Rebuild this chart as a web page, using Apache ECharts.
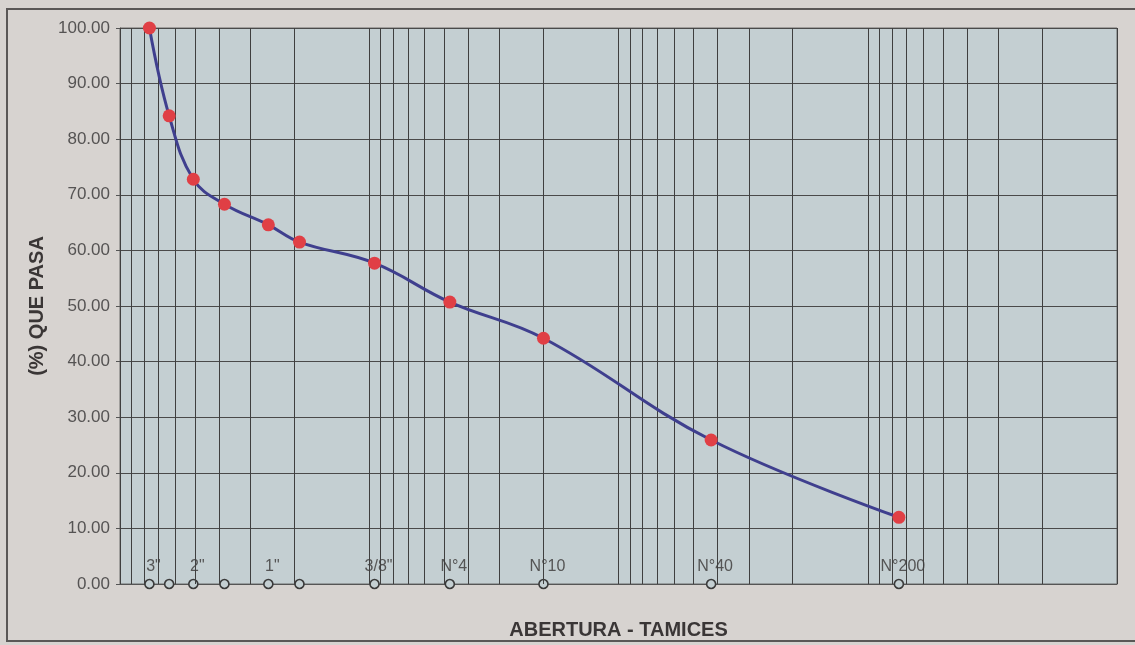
<!DOCTYPE html>
<html>
<head>
<meta charset="utf-8">
<script src="https://cdn.jsdelivr.net/npm/echarts@6/dist/echarts.min.js"></script>
<style>
html,body{margin:0;padding:0;background:#d7d3d0;}
#c{width:1135px;height:645px;}
</style>
</head>
<body>
<div id="c"></div>
<script>
// Sieve openings (mm) and names
const sieveSizes = [76.2, 63.5, 50.8, 38.1, 25.4, 19.05, 9.525, 4.75, 2.0, 0.425, 0.075];
const sieveLabels = ['3"', '', '2"', '', '1"', '', '3/8"', 'N°4', 'N°10', 'N°40', 'N°200'];
// % passing
const percentPassing = [100.0, 84.2, 72.8, 68.3, 64.6, 61.5, 57.7, 50.7, 44.2, 25.9, 12.0];
// y tick values
const yTicks = [0, 10, 20, 30, 40, 50, 60, 70, 80, 90, 100];

// log grid lines: 1..9 x each decade from 0.01 to 100
const decades = [0.01, 0.1, 1, 10];
const gridValues = [];
decades.forEach(d => { for (let m = 1; m <= 9; m++) gridValues.push(+(d * m).toPrecision(6)); });
gridValues.push(100);

const chart = echarts.init(document.getElementById('c'));
const FONT = '"Liberation Sans", Arial, sans-serif';
chart.setOption({
  animation: false,
  backgroundColor: '#d7d3d0',
  graphic: [{
    type: 'rect', z: -1,
    shape: {x: 7, y: 9, width: 1150, height: 632},
    style: {fill: 'none', stroke: '#5a5756', lineWidth: 2}
  }],
  grid: {
    left: 120, right: 18, top: 28, bottom: 61,
    show: true, backgroundColor: '#c4cfd2', borderColor: '#6a6a6a', borderWidth: 1
  },
  xAxis: {
    type: 'log', logBase: 10, min: 0.01, max: 100, inverse: true,
    name: 'ABERTURA - TAMICES', nameLocation: 'middle', nameGap: 36,
    nameTextStyle: {fontFamily: FONT, fontWeight: 'bold', fontSize: 20, color: '#3a3636'},
    axisLine: {show: true, lineStyle: {color: '#555', width: 1}},
    axisTick: {show: false},
    axisLabel: {show: false},
    splitLine: {show: false}
  },
  yAxis: {
    type: 'value', min: 0, max: 100, interval: 10,
    name: '(%) QUE PASA', nameLocation: 'middle', nameGap: 72, nameRotate: 90,
    nameTextStyle: {fontFamily: FONT, fontWeight: 'bold', fontSize: 20, color: '#3a3636'},
    axisLine: {show: true, lineStyle: {color: '#555'}},
    axisTick: {show: true, length: 4, lineStyle: {color: '#555'}},
    axisLabel: {
      fontFamily: FONT, fontSize: 17, color: '#555353', margin: 10,
      formatter: v => v.toFixed(2)
    },
    splitLine: {show: true, lineStyle: {color: '#4a4a4a', width: 1}}
  },
  series: [
    {
      type: 'scatter', clip: false, z: 3,
      data: sieveSizes.map(s => [s, 0]),
      symbol: 'circle', symbolSize: 9,
      itemStyle: {color: '#c4cfd2', borderColor: '#3a3a3a', borderWidth: 1.6, opacity: 1},
      label: {
        show: true, position: 'top', distance: 4, offset: [4, 0],
        fontFamily: FONT, fontSize: 16, color: '#555',
        formatter: p => sieveLabels[p.dataIndex]
      },
      markLine: {
        silent: true, symbol: ['none', 'none'], label: {show: false},
        lineStyle: {color: '#3f3f3f', width: 1, type: 'solid'},
        data: gridValues.map(v => ({xAxis: v}))
      }
    },
    {
      type: 'line', clip: false, z: 5,
      data: sieveSizes.map((s, i) => [s, percentPassing[i]]),
      smooth: 0.4,
      lineStyle: {color: '#3f3f8e', width: 3},
      symbol: 'circle', symbolSize: 13,
      itemStyle: {color: '#e03f45'}
    }
  ]
});
</script>
</body>
</html>
